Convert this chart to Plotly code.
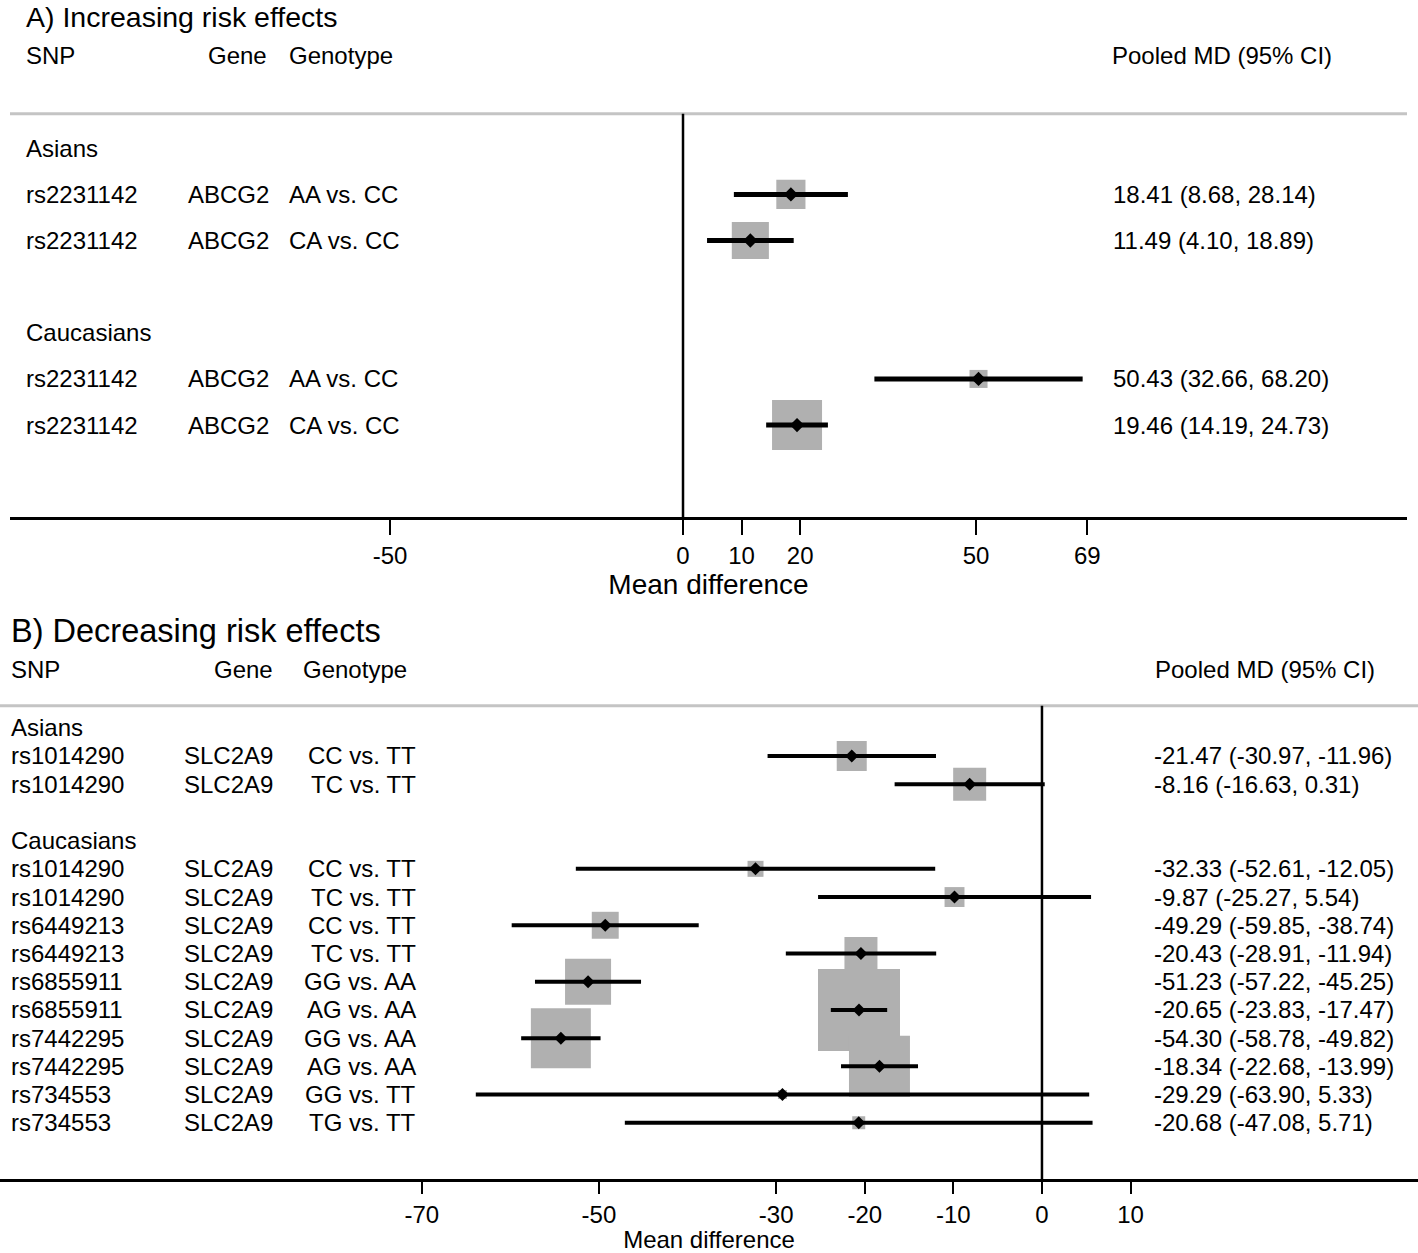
import plotly.graph_objects as go
import numpy as np

W, H = 1418, 1253
FONT = "Liberation Sans, Arial, Helvetica, sans-serif"

# ---------------- Panel A data (increasing risk effects) ----------------
groups_a = ["Asians", "Caucasians"]
grp_a = ["Asians", "Asians", "Caucasians", "Caucasians"]
snp_a = ["rs2231142", "rs2231142", "rs2231142", "rs2231142"]
gene_a = ["ABCG2", "ABCG2", "ABCG2", "ABCG2"]
geno_a = ["AA vs. CC", "CA vs. CC", "AA vs. CC", "CA vs. CC"]
md_a = [18.41, 11.49, 50.43, 19.46]
lo_a = [8.68, 4.10, 32.66, 14.19]
hi_a = [28.14, 18.89, 68.20, 24.73]
wt_a = [34, 55, 13, 100]          # relative study weight (box area)
ticks_a = [-50, 0, 10, 20, 50, 69]

# ---------------- Panel B data (decreasing risk effects) ----------------
groups_b = ["Asians", "Caucasians"]
grp_b = ["Asians", "Asians"] + ["Caucasians"] * 10
snp_b = ["rs1014290", "rs1014290", "rs1014290", "rs1014290", "rs6449213", "rs6449213",
         "rs6855911", "rs6855911", "rs7442295", "rs7442295", "rs734553", "rs734553"]
gene_b = ["SLC2A9"] * 12
geno_b = ["CC vs. TT", "TC vs. TT", "CC vs. TT", "TC vs. TT", "CC vs. TT", "TC vs. TT",
          "GG vs. AA", "AG vs. AA", "GG vs. AA", "AG vs. AA", "GG vs. TT", "TG vs. TT"]
md_b = [-21.47, -8.16, -32.33, -9.87, -49.29, -20.43, -51.23, -20.65, -54.30, -18.34, -29.29, -20.68]
lo_b = [-30.97, -16.63, -52.61, -25.27, -59.85, -28.91, -57.22, -23.83, -58.78, -22.68, -63.90, -47.08]
hi_b = [-11.96, 0.31, -12.05, 5.54, -38.74, -11.94, -45.25, -17.47, -49.82, -13.99, 5.33, 5.71]
wt_b = [13.4, 16.2, 3.8, 5.9, 10.8, 16.2, 31.5, 100, 53.5, 55.3, 1.2, 2.5]
ticks_b = [-70, -50, -30, -20, -10, 0, 10]


def build_rows(groups, grp):
    """Row index for each group heading and each study (blank row after each group)."""
    r = 0
    grow, srow = {}, []
    for g in groups:
        grow[g] = r
        r += 1
        for gg in grp:
            if gg == g:
                srow.append(r)
                r += 1
        r += 1
    return grow, srow


grow_a, row_a = build_rows(groups_a, grp_a)
grow_b, row_b = build_rows(groups_b, grp_b)

fig = go.Figure()

BOX = "#b0b0b0"


def add_panel(md, lo, hi, wt, rows, xa, ya, maxbox, lw, dsize):
    md = np.array(md); lo = np.array(lo); hi = np.array(hi); wt = np.array(wt, float)
    size = maxbox * np.sqrt(wt / wt.max())
    fig.add_trace(go.Scatter(x=md, y=rows, mode="markers", xaxis=xa, yaxis=ya,
                             marker=dict(symbol="square", size=size, color=BOX, opacity=1,
                                         line=dict(width=0)),
                             hoverinfo="skip", showlegend=False))
    fig.add_trace(go.Scatter(x=md, y=rows, mode="markers", xaxis=xa, yaxis=ya,
                             marker=dict(symbol="diamond", size=dsize, color="black", opacity=1,
                                         line=dict(width=0)),
                             error_x=dict(type="data", symmetric=False, array=hi - md, arrayminus=md - lo,
                                          thickness=lw, width=0, color="black"),
                             showlegend=False))


add_panel(md_a, lo_a, hi_a, wt_a, row_a, "x", "y", 50, 5, 11)
add_panel(md_b, lo_b, hi_b, wt_b, row_b, "x2", "y2", 82, 4, 10)

ann = []


def txt(xpx, y, yref, s, anchor="left", size=24, yanchor="middle"):
    ann.append(dict(x=xpx / W, xref="paper", y=y, yref=yref, text=s, xanchor=anchor,
                    yanchor=yanchor, showarrow=False, borderpad=0,
                    font=dict(size=size, family=FONT, color="black")))


def top(ypx):
    """paper y for a header placed ypx pixels from the top of the figure"""
    return 1 - ypx / H


# Panel A text
txt(25, 1.0, "paper", "A) Increasing risk effects", size=28.5, yanchor="top")
txt(25, top(56), "paper", "SNP")
txt(268, top(56), "paper", "Gene", "right")
txt(288, top(56), "paper", "Genotype")
txt(1111, top(56), "paper", "Pooled MD (95% CI)")
for g in groups_a:
    txt(25, grow_a[g], "y", g)
for i, r in enumerate(row_a):
    txt(25, r, "y", snp_a[i])
    txt(270, r, "y", gene_a[i], "right")
    txt(288, r, "y", geno_a[i])
    txt(1112, r, "y", f"{md_a[i]:.2f} ({lo_a[i]:.2f}, {hi_a[i]:.2f})")

# Panel B text
txt(10, top(633), "paper", "B) Decreasing risk effects", size=32.5)
txt(10, top(672), "paper", "SNP")
txt(274, top(672), "paper", "Gene", "right")
txt(408, top(672), "paper", "Genotype", "right")
txt(1154, top(672), "paper", "Pooled MD (95% CI)")
for g in groups_b:
    txt(10, grow_b[g], "y2", g)
for i, r in enumerate(row_b):
    txt(10, r, "y2", snp_b[i])
    txt(274, r, "y2", gene_b[i], "right")
    txt(417, r, "y2", geno_b[i], "right")
    txt(1153, r, "y2", f"{md_b[i]:.2f} ({lo_b[i]:.2f}, {hi_b[i]:.2f})")

shapes = []
for xr, yr in (("x", "y"), ("x2", "y2")):
    # grey header rule
    shapes.append(dict(type="line", xref=f"{xr} domain", yref=f"{yr} domain", x0=0, x1=1, y0=1, y1=1,
                       line=dict(color="#c4c4c4", width=3)))
    # line of no effect
    shapes.append(dict(type="line", xref=xr, yref=f"{yr} domain", x0=0, x1=0, y0=0, y1=1,
                       line=dict(color="black", width=2.5)))

axis_common = dict(showgrid=False, zeroline=False, showline=True, linecolor="black",
                   ticks="outside", tickcolor="black", tickwidth=2,
                   tickfont=dict(size=24, family=FONT, color="black"))

fig.update_layout(
    width=W, height=H, margin=dict(l=0, r=0, t=0, b=0),
    paper_bgcolor="white", plot_bgcolor="white",
    font=dict(family=FONT, color="black"),
    xaxis=dict(domain=[10 / W, 1407 / W], range=[-114.85, 123.55], anchor="y",
               tickvals=ticks_a, ticktext=[str(v) for v in ticks_a], linewidth=3, ticklen=15,
               title=dict(text="Mean difference", font=dict(size=28, family=FONT), standoff=4),
               **axis_common),
    yaxis=dict(domain=[1 - 519 / H, 1 - 114 / H], range=[8.0, -0.75], visible=False),
    xaxis2=dict(domain=[0, 1], range=[-117.6, 42.44], anchor="y2",
                tickvals=ticks_b, ticktext=[str(v) for v in ticks_b], linewidth=2.5, ticklen=12,
                title=dict(text="Mean difference", font=dict(size=24, family=FONT), standoff=8),
                **axis_common),
    yaxis2=dict(domain=[1 - 1183 / H, 1 - 708 / H], range=[16.0, -0.78], visible=False),
    annotations=ann, shapes=shapes,
)

fig.write_html("out.html", config={"displayModeBar": False},
               post_script="document.body.style.margin='0';document.body.style.overflow='hidden';")
